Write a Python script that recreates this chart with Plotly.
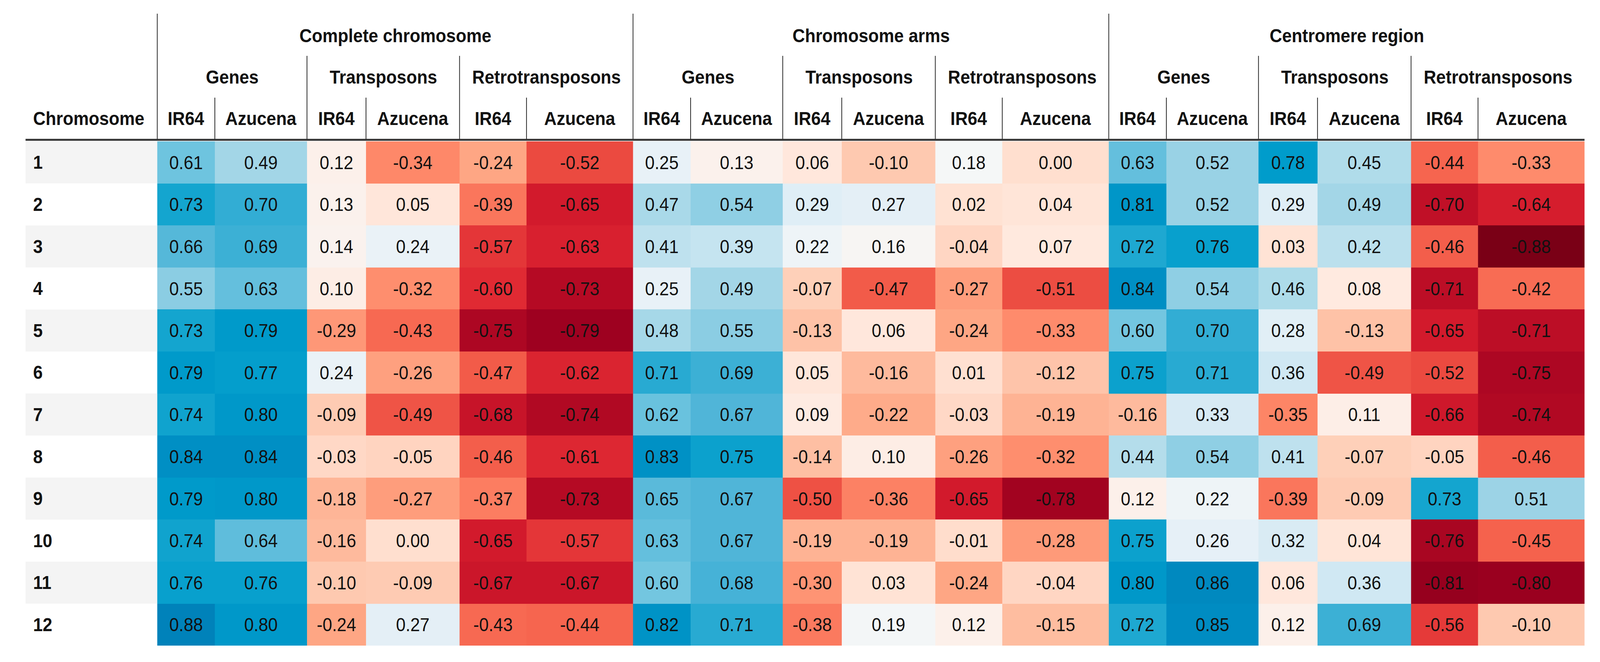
import numpy as np
import plotly.graph_objects as go

# ---------------- data ----------------
chromosomes = [str(i) for i in range(1, 13)]
regions = ["Complete chromosome", "Chromosome arms", "Centromere region"]
features = ["Genes", "Transposons", "Retrotransposons"]
varieties = ["IR64", "Azucena"]

# Complete chromosome
cc_genes_ir64 = [0.61, 0.73, 0.66, 0.55, 0.73, 0.79, 0.74, 0.84, 0.79, 0.74, 0.76, 0.88]
cc_genes_azu = [0.49, 0.70, 0.69, 0.63, 0.79, 0.77, 0.80, 0.84, 0.80, 0.64, 0.76, 0.80]
cc_trans_ir64 = [0.12, 0.13, 0.14, 0.10, -0.29, 0.24, -0.09, -0.03, -0.18, -0.16, -0.10, -0.24]
cc_trans_azu = [-0.34, 0.05, 0.24, -0.32, -0.43, -0.26, -0.49, -0.05, -0.27, 0.00, -0.09, 0.27]
cc_retro_ir64 = [-0.24, -0.39, -0.57, -0.60, -0.75, -0.47, -0.68, -0.46, -0.37, -0.65, -0.67, -0.43]
cc_retro_azu = [-0.52, -0.65, -0.63, -0.73, -0.79, -0.62, -0.74, -0.61, -0.73, -0.57, -0.67, -0.44]

# Chromosome arms
ar_genes_ir64 = [0.25, 0.47, 0.41, 0.25, 0.48, 0.71, 0.62, 0.83, 0.65, 0.63, 0.60, 0.82]
ar_genes_azu = [0.13, 0.54, 0.39, 0.49, 0.55, 0.69, 0.67, 0.75, 0.67, 0.67, 0.68, 0.71]
ar_trans_ir64 = [0.06, 0.29, 0.22, -0.07, -0.13, 0.05, 0.09, -0.14, -0.50, -0.19, -0.30, -0.38]
ar_trans_azu = [-0.10, 0.27, 0.16, -0.47, 0.06, -0.16, -0.22, 0.10, -0.36, -0.19, 0.03, 0.19]
ar_retro_ir64 = [0.18, 0.02, -0.04, -0.27, -0.24, 0.01, -0.03, -0.26, -0.65, -0.01, -0.24, 0.12]
ar_retro_azu = [0.00, 0.04, 0.07, -0.51, -0.33, -0.12, -0.19, -0.32, -0.78, -0.28, -0.04, -0.15]

# Centromere region
ce_genes_ir64 = [0.63, 0.81, 0.72, 0.84, 0.60, 0.75, -0.16, 0.44, 0.12, 0.75, 0.80, 0.72]
ce_genes_azu = [0.52, 0.52, 0.76, 0.54, 0.70, 0.71, 0.33, 0.54, 0.22, 0.26, 0.86, 0.85]
ce_trans_ir64 = [0.78, 0.29, 0.03, 0.46, 0.28, 0.36, -0.35, 0.41, -0.39, 0.32, 0.06, 0.12]
ce_trans_azu = [0.45, 0.49, 0.42, 0.08, -0.13, -0.49, 0.11, -0.07, -0.09, 0.04, 0.36, 0.69]
ce_retro_ir64 = [-0.44, -0.70, -0.46, -0.71, -0.65, -0.52, -0.66, -0.05, 0.73, -0.76, -0.81, -0.56]
ce_retro_azu = [-0.33, -0.64, -0.88, -0.42, -0.71, -0.75, -0.74, -0.46, 0.51, -0.45, -0.80, -0.10]

columns = [
    cc_genes_ir64, cc_genes_azu, cc_trans_ir64, cc_trans_azu, cc_retro_ir64, cc_retro_azu,
    ar_genes_ir64, ar_genes_azu, ar_trans_ir64, ar_trans_azu, ar_retro_ir64, ar_retro_azu,
    ce_genes_ir64, ce_genes_azu, ce_trans_ir64, ce_trans_azu, ce_retro_ir64, ce_retro_azu,
]

# ---------------- styles / geometry ----------------
W, H = 4446, 1695
FONT = "Liberation Sans, Arial, sans-serif"
FS = 48
TABLE_LEFT = 71
CELL_LEFT = 437
GROUP_COL_W = [160, 256, 164, 260, 186, 296]
ROW_TOP = 362
ROW_H = 107.6
HEAD_TOP = 35
LVL2_TOP = 143
LVL3_TOP = 250
RULE_Y = 358
Y_LVL1, Y_LVL2, Y_LVL3 = 91, 197, 303
LABEL_X = 90

zmin, zmax = -0.88, 0.88
color_stops = [
    (-0.88, "#7a0016"), (-0.80, "#9a001f"), (-0.73, "#b50a24"), (-0.65, "#d21a2c"),
    (-0.60, "#e02a33"), (-0.52, "#eb4a40"), (-0.44, "#f6654f"), (-0.34, "#fe8869"),
    (-0.24, "#fea684"), (-0.10, "#fec9b0"), (0.00, "#ffdfcf"), (0.08, "#ffeae0"),
    (0.13, "#fbf1ec"), (0.18, "#f5f7f7"), (0.25, "#e8f1f7"), (0.36, "#d0e8f3"),
    (0.45, "#b0dcea"), (0.52, "#99d2e5"), (0.61, "#6ec4df"), (0.67, "#50b5d8"),
    (0.73, "#14a5cf"), (0.78, "#009ccb"), (0.84, "#008fc4"), (0.88, "#0082ba"),
]
colorscale = [[(v - zmin) / (zmax - zmin), c] for v, c in color_stops]

# ---------------- build ----------------
z = np.array(columns).T  # rows x cols
text = [[f"{v:.2f}" for v in row] for row in z]

n_groups = len(regions)
col_w = GROUP_COL_W * n_groups
x_edges = CELL_LEFT + np.concatenate([[0], np.cumsum(col_w)])
n_rows = len(chromosomes)
y_edges = ROW_TOP + ROW_H * np.arange(n_rows + 1)
y_centers = (y_edges[:-1] + y_edges[1:]) / 2
TABLE_RIGHT = x_edges[-1]

fig = go.Figure()
fig.add_trace(go.Heatmap(
    z=z, x=x_edges, y=y_edges, text=text, texttemplate="%{text}",
    textfont=dict(family=FONT, size=FS, color="#111111"),
    colorscale=colorscale, zmin=zmin, zmax=zmax, showscale=False,
    hoverinfo="skip", xgap=0, ygap=0,
))

shapes = []
annotations = []

# row label column backgrounds (alternating)
for i, lab in enumerate(chromosomes):
    if i % 2 == 0:
        shapes.append(dict(type="rect", xref="x", yref="y", x0=TABLE_LEFT, x1=CELL_LEFT,
                           y0=y_edges[i], y1=y_edges[i + 1], fillcolor="#f4f4f4",
                           line=dict(width=0), layer="below"))
    annotations.append(dict(x=LABEL_X, y=y_centers[i], xref="x", yref="y", text=f"<b>{lab}</b>",
                            showarrow=False, xanchor="left", yanchor="middle",
                            font=dict(family=FONT, size=FS, color="#111111")))

annotations.append(dict(x=LABEL_X, y=Y_LVL3, xref="x", yref="y", text="<b>Chromosome</b>",
                        showarrow=False, xanchor="left", yanchor="middle",
                        font=dict(family=FONT, size=FS, color="#111111")))

ncol_g = len(GROUP_COL_W)
for g, reg in enumerate(regions):
    gx0 = x_edges[g * ncol_g]
    gx1 = x_edges[(g + 1) * ncol_g]
    shapes.append(dict(type="line", xref="x", yref="y", x0=gx0, x1=gx0, y0=HEAD_TOP, y1=RULE_Y,
                       line=dict(color="#1a1a1a", width=2)))
    annotations.append(dict(x=(gx0 + gx1) / 2, y=Y_LVL1, xref="x", yref="y", text=f"<b>{reg}</b>",
                            showarrow=False, xanchor="center", yanchor="middle",
                            font=dict(family=FONT, size=FS, color="#111111")))
    for f, feat in enumerate(features):
        c0 = g * ncol_g + f * len(varieties)
        fx0 = x_edges[c0]
        fx1 = x_edges[c0 + len(varieties)]
        if f > 0:
            shapes.append(dict(type="line", xref="x", yref="y", x0=fx0, x1=fx0, y0=LVL2_TOP, y1=RULE_Y,
                               line=dict(color="#1a1a1a", width=2)))
        annotations.append(dict(x=(fx0 + fx1) / 2, y=Y_LVL2, xref="x", yref="y", text=f"<b>{feat}</b>",
                                showarrow=False, xanchor="center", yanchor="middle",
                                font=dict(family=FONT, size=FS, color="#111111")))
        for v, var in enumerate(varieties):
            vx0 = x_edges[c0 + v]
            vx1 = x_edges[c0 + v + 1]
            if v > 0:
                shapes.append(dict(type="line", xref="x", yref="y", x0=vx0, x1=vx0, y0=LVL3_TOP, y1=RULE_Y,
                                   line=dict(color="#1a1a1a", width=2)))
            annotations.append(dict(x=(vx0 + vx1) / 2, y=Y_LVL3, xref="x", yref="y", text=f"<b>{var}</b>",
                                    showarrow=False, xanchor="center", yanchor="middle",
                                    font=dict(family=FONT, size=FS, color="#111111")))

# thick header rule
shapes.append(dict(type="line", xref="x", yref="y", x0=TABLE_LEFT, x1=TABLE_RIGHT, y0=RULE_Y, y1=RULE_Y,
                   line=dict(color="#333333", width=5)))

fig.update_layout(
    width=W, height=H, margin=dict(l=0, r=0, t=0, b=0),
    paper_bgcolor="white", plot_bgcolor="white",
    shapes=shapes, annotations=annotations, showlegend=False,
    xaxis=dict(range=[0, W], visible=False, fixedrange=True),
    yaxis=dict(range=[H, 0], visible=False, fixedrange=True),
)

# fit the fixed-size figure exactly into the browser viewport
fit_script = """
var gd = document.getElementById('{plot_id}');
document.documentElement.style.margin = '0';
document.documentElement.style.overflow = 'hidden';
document.body.style.margin = '0';
document.body.style.overflow = 'hidden';
var sx = window.innerWidth / %d, sy = window.innerHeight / %d;
var wrap = gd.parentElement;
wrap.style.width = window.innerWidth + 'px';
wrap.style.height = window.innerHeight + 'px';
wrap.style.overflow = 'hidden';
gd.style.transformOrigin = '0 0';
gd.style.transform = 'scale(' + sx + ',' + sy + ')';
""" % (W, H)

fig.write_html("out.html", post_script=fit_script, config={"displayModeBar": False})
